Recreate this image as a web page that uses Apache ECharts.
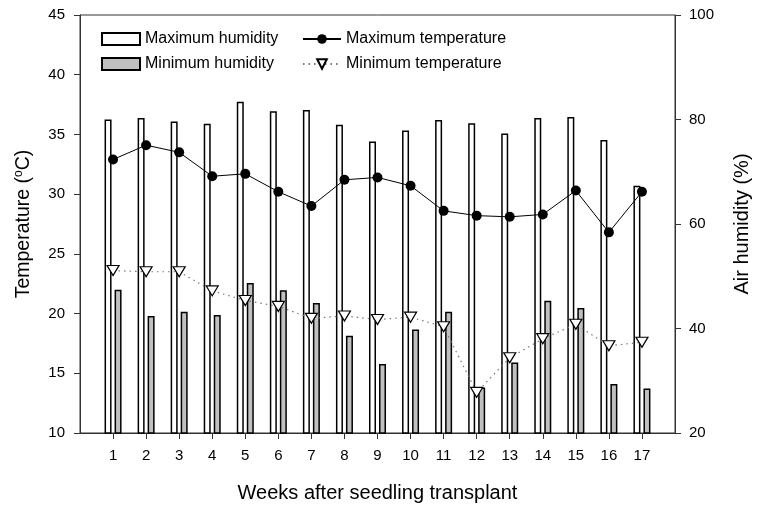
<!DOCTYPE html>
<html lang="en">
<head>
    <meta charset="UTF-8">
    <script type="text/javascript" src="https://cdn.jsdelivr.net/npm/echarts@6.0.0/dist/echarts.min.js"></script>
    <style>
        html, body {
            margin: 0;
            overflow: hidden;
        }
        #viewport {
            position: absolute;
            left: 0px;
            top: 0px;
            width: 760px;
            height: 508px;
        }
    </style>
</head>
<body>
<div id="viewport"></div>
<script>
    // padded with empty slots at both ends so week 1 and 17 sit one step in from the frame
    var weeks = ['', '1', '2', '3', '4', '5', '6', '7', '8', '9', '10', '11', '12', '13', '14', '15', '16', '17', ''];

    var maxHumidity = [80.0, 80.3, 79.6, 79.2, 83.4, 81.6, 81.8, 79.0, 75.8, 77.9, 79.9, 79.3, 77.3, 80.3, 80.5, 76.1, 67.3];
    var minHumidity = [47.4, 42.4, 43.2, 42.6, 48.7, 47.3, 44.9, 38.6, 33.2, 39.8, 43.2, 28.7, 33.5, 45.3, 43.9, 29.4, 28.5];
    var maxTemp = [32.9, 34.1, 33.5, 31.5, 31.7, 30.2, 29.0, 31.2, 31.4, 30.7, 28.6, 28.2, 28.1, 28.3, 30.3, 26.8, 30.2];
    var minTemp = [23.6, 23.5, 23.5, 21.9, 21.1, 20.6, 19.6, 19.8, 19.5, 19.7, 18.9, 13.4, 16.3, 17.9, 19.1, 17.3, 17.6];

    function pad(arr) {
        return [null].concat(arr, [null]);
    }

    var font = 'Arial, "Liberation Sans", sans-serif';

    var myChart = echarts.init(document.getElementById('viewport'));

    var legendText = { fontFamily: font, fontSize: 16, color: '#000' };

    var option = {
        animation: false,
        textStyle: { fontFamily: font, color: '#000' },
        grid: {
            left: 80, right: 81, top: 15, bottom: 75,
            show: true, borderColor: '#333', borderWidth: 1, backgroundColor: 'transparent'
        },
        legend: [{
            left: 96, top: 26, orient: 'vertical', itemGap: 9,
            itemWidth: 38, itemHeight: 12,
            textStyle: legendText,
            data: [
                { name: 'Maximum humidity', icon: 'rect' },
                { name: 'Minimum humidity', icon: 'rect' }
            ]
        }, {
            left: 297, top: 26, orient: 'vertical', itemGap: 9,
            itemWidth: 38, itemHeight: 12,
            textStyle: legendText,
            data: ['Maximum temperature', 'Minimum temperature']
        }],
        xAxis: {
            type: 'category',
            data: weeks,
            boundaryGap: false,
            name: 'Weeks after seedling transplant',
            nameLocation: 'middle',
            nameGap: 50,
            nameTextStyle: { fontFamily: font, fontSize: 20, color: '#000' },
            axisLine: { lineStyle: { color: '#333', width: 1 } },
            axisTick: {
                length: 6, lineStyle: { color: '#333' },
                interval: function (i) { return i > 0 && i < weeks.length - 1; }
            },
            axisLabel: { interval: 0, fontSize: 15, color: '#000', margin: 15 },
            splitLine: { show: false }
        },
        yAxis: [{
            type: 'value',
            min: 10, max: 45, interval: 5,
            name: '{a|Temperature (}{s|o}{a|C)}',
            nameLocation: 'middle',
            nameGap: 46,
            nameTextStyle: {
                rich: {
                    a: { fontFamily: font, fontSize: 19.5, color: '#000' },
                    s: { fontFamily: font, fontSize: 12, color: '#000', verticalAlign: 'top', padding: [0, 0, 9, 0] }
                }
            },
            axisLine: { show: true, lineStyle: { color: '#333' } },
            axisTick: { show: true, length: 6, lineStyle: { color: '#333' } },
            axisLabel: { fontSize: 15, color: '#000', margin: 15 },
            splitLine: { show: false }
        }, {
            type: 'value',
            min: 20, max: 100, interval: 20,
            name: 'Air humidity (%)',
            nameLocation: 'middle',
            nameGap: 57,
            nameTextStyle: { fontFamily: font, fontSize: 20, color: '#000' },
            axisLine: { show: true, lineStyle: { color: '#333' } },
            axisTick: { show: true, length: 6, lineStyle: { color: '#333' } },
            axisLabel: { fontSize: 15, color: '#000', margin: 14 },
            splitLine: { show: false }
        }],
        series: [{
            name: 'Maximum humidity',
            type: 'bar',
            yAxisIndex: 1,
            data: pad(maxHumidity),
            barWidth: 7,
            barGap: '43%',
            itemStyle: { color: '#fff', borderColor: '#000', borderWidth: 1.5 },
            z: 2
        }, {
            name: 'Minimum humidity',
            type: 'bar',
            yAxisIndex: 1,
            data: pad(minHumidity),
            barWidth: 7,
            itemStyle: { color: '#c0c0c0', borderColor: '#000', borderWidth: 1.5 },
            z: 2
        }, {
            name: 'Maximum temperature',
            type: 'line',
            yAxisIndex: 0,
            data: pad(maxTemp),
            symbol: 'circle',
            symbolSize: 10,
            itemStyle: { color: '#000' },
            lineStyle: { color: '#000', width: 1 },
            z: 5
        }, {
            name: 'Minimum temperature',
            type: 'line',
            yAxisIndex: 0,
            data: pad(minTemp),
            symbol: 'triangle',
            symbolRotate: 180,
            symbolSize: [12, 10],
            itemStyle: { color: '#fff', borderColor: '#000', borderWidth: 1.2 },
            lineStyle: { color: '#777', width: 1.2, type: [1.5, 4] },
            z: 5
        }]
    };

    myChart.setOption(option);
</script>
</body>
</html>
